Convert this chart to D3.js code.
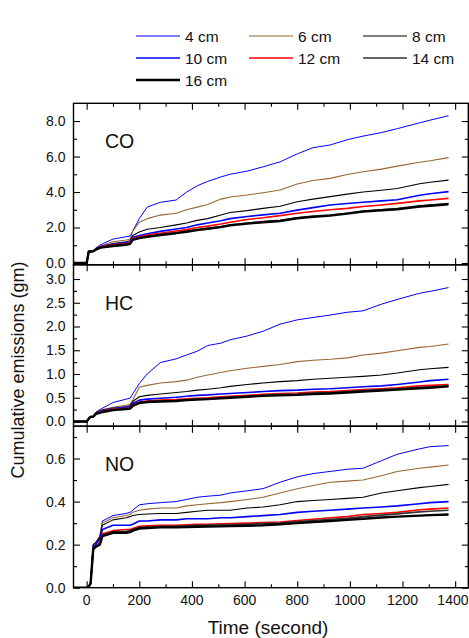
<!DOCTYPE html>
<html>
<head>
<meta charset="utf-8">
<script src="https://cdn.jsdelivr.net/npm/d3@7"></script>
<style>
    body { margin: 0; background: #fff; }
    text { font-family: Arial, "Liberation Sans", sans-serif; fill: #111; }
</style>
</head>
<body>
<div id="chart"></div>
<script>

// time axis shared by every series (seconds)
const times = [-50, 0, 8, 15, 25, 35, 50, 60, 100, 150, 165, 175, 200, 230, 280, 340, 380, 420, 460,
    510, 545, 610, 670, 735, 800, 860, 925, 990, 1050, 1120, 1180, 1265, 1305, 1375];

const sizes = ["4 cm", "6 cm", "8 cm", "10 cm", "12 cm", "14 cm", "16 cm"];

// CO, one row per size
const coValues = [
    [0,0,0.65,0.65,0.68,0.85,1.0,1.08,1.35,1.48,1.52,1.8,2.5,3.15,3.42,3.55,4.0,4.35,4.6,4.85,5.0,5.18,5.42,5.7,6.15,6.5,6.65,6.95,7.15,7.35,7.57,7.9,8.05,8.3],
    [0,0,0.65,0.65,0.68,0.83,0.95,1.0,1.2,1.3,1.35,1.8,2.3,2.5,2.7,2.8,3.0,3.15,3.3,3.6,3.72,3.83,3.96,4.11,4.45,4.65,4.77,4.99,5.14,5.29,5.46,5.68,5.76,5.94],
    [0,0,0.65,0.65,0.67,0.8,0.92,0.95,1.1,1.2,1.25,1.55,1.75,1.9,2.0,2.15,2.25,2.4,2.5,2.7,2.85,2.95,3.08,3.2,3.45,3.6,3.74,3.88,4.0,4.1,4.2,4.47,4.55,4.67],
    [0,0,0.65,0.65,0.67,0.8,0.9,0.95,1.05,1.15,1.2,1.45,1.55,1.65,1.78,1.92,2.0,2.15,2.25,2.38,2.5,2.62,2.71,2.8,2.98,3.12,3.27,3.35,3.42,3.5,3.56,3.82,3.9,4.02],
    [0,0,0.65,0.65,0.66,0.78,0.88,0.93,1.02,1.1,1.15,1.38,1.48,1.58,1.68,1.8,1.88,2.0,2.08,2.2,2.3,2.45,2.55,2.67,2.8,2.9,3.0,3.08,3.18,3.27,3.36,3.5,3.55,3.64],
    [0,0,0.65,0.65,0.66,0.76,0.86,0.9,0.98,1.05,1.1,1.33,1.42,1.5,1.6,1.7,1.78,1.88,1.95,2.05,2.15,2.25,2.33,2.4,2.55,2.65,2.7,2.8,2.92,3.0,3.07,3.22,3.27,3.35],
    [0,0,0.65,0.65,0.66,0.75,0.85,0.88,0.96,1.03,1.08,1.3,1.4,1.48,1.58,1.68,1.76,1.85,1.93,2.02,2.12,2.22,2.3,2.37,2.52,2.6,2.67,2.78,2.9,2.97,3.03,3.18,3.23,3.31]
];

// HC
const hcValues = [
    [0,0,0.06,0.1,0.1,0.2,0.25,0.28,0.4,0.47,0.49,0.58,0.8,1.0,1.24,1.32,1.4,1.48,1.6,1.65,1.72,1.8,1.9,2.05,2.14,2.19,2.24,2.3,2.33,2.47,2.57,2.7,2.74,2.82],
    [0,0,0.06,0.1,0.1,0.19,0.23,0.25,0.3,0.34,0.36,0.45,0.72,0.76,0.81,0.84,0.87,0.93,0.98,1.03,1.07,1.12,1.16,1.2,1.26,1.29,1.31,1.34,1.4,1.44,1.49,1.56,1.58,1.63],
    [0,0,0.06,0.1,0.1,0.18,0.22,0.24,0.28,0.31,0.33,0.42,0.52,0.55,0.58,0.61,0.63,0.66,0.68,0.71,0.74,0.78,0.81,0.84,0.86,0.89,0.91,0.93,0.95,0.98,1.02,1.09,1.11,1.14],
    [0,0,0.06,0.1,0.1,0.18,0.21,0.23,0.27,0.3,0.31,0.38,0.45,0.47,0.49,0.51,0.53,0.55,0.56,0.58,0.59,0.61,0.63,0.65,0.66,0.68,0.69,0.71,0.73,0.75,0.78,0.83,0.86,0.89],
    [0,0,0.06,0.1,0.1,0.17,0.2,0.22,0.26,0.28,0.29,0.35,0.41,0.43,0.45,0.46,0.48,0.49,0.5,0.52,0.53,0.55,0.57,0.59,0.6,0.62,0.63,0.65,0.67,0.69,0.71,0.75,0.76,0.78],
    [0,0,0.06,0.1,0.1,0.17,0.19,0.21,0.25,0.27,0.28,0.34,0.4,0.42,0.43,0.44,0.46,0.47,0.48,0.5,0.51,0.53,0.55,0.57,0.58,0.6,0.61,0.63,0.65,0.67,0.69,0.72,0.73,0.75],
    [0,0,0.06,0.1,0.1,0.16,0.18,0.2,0.24,0.26,0.27,0.33,0.39,0.41,0.42,0.43,0.45,0.46,0.47,0.49,0.5,0.52,0.54,0.55,0.56,0.58,0.59,0.61,0.63,0.65,0.67,0.7,0.71,0.74]
];

// NO
const noValues = [
    [0,0,0.005,0.02,0.2,0.21,0.24,0.31,0.335,0.345,0.35,0.36,0.385,0.39,0.395,0.4,0.41,0.42,0.425,0.43,0.44,0.45,0.46,0.49,0.515,0.53,0.54,0.55,0.555,0.59,0.62,0.645,0.655,0.66],
    [0,0,0.005,0.02,0.2,0.21,0.24,0.3,0.325,0.335,0.34,0.35,0.36,0.365,0.37,0.37,0.38,0.385,0.39,0.395,0.4,0.41,0.42,0.44,0.46,0.475,0.49,0.495,0.5,0.52,0.54,0.555,0.56,0.57],
    [0,0,0.005,0.02,0.2,0.21,0.235,0.29,0.315,0.325,0.33,0.335,0.34,0.342,0.345,0.345,0.35,0.355,0.36,0.36,0.36,0.37,0.375,0.385,0.4,0.405,0.41,0.415,0.42,0.44,0.45,0.465,0.47,0.48],
    [0,0,0.005,0.02,0.19,0.2,0.225,0.27,0.29,0.29,0.29,0.295,0.31,0.31,0.315,0.315,0.32,0.32,0.32,0.325,0.325,0.33,0.335,0.34,0.35,0.355,0.36,0.365,0.37,0.375,0.38,0.39,0.395,0.4],
    [0,0,0.005,0.02,0.18,0.19,0.21,0.25,0.265,0.27,0.27,0.275,0.285,0.287,0.29,0.29,0.292,0.295,0.295,0.297,0.298,0.3,0.303,0.305,0.312,0.318,0.325,0.33,0.34,0.345,0.35,0.362,0.365,0.37],
    [0,0,0.005,0.02,0.18,0.19,0.205,0.245,0.26,0.262,0.265,0.27,0.28,0.282,0.285,0.285,0.287,0.29,0.29,0.292,0.293,0.295,0.298,0.3,0.307,0.312,0.318,0.322,0.33,0.337,0.343,0.352,0.355,0.36],
    [0,0,0.005,0.02,0.18,0.19,0.2,0.24,0.255,0.255,0.258,0.265,0.275,0.277,0.28,0.28,0.282,0.283,0.284,0.285,0.286,0.288,0.29,0.295,0.3,0.305,0.31,0.315,0.32,0.326,0.33,0.335,0.337,0.34]
];

// line styles per size
const colors = ["#0000ff", "#996633", "#000000", "#0000ff", "#ff0000", "#333333", "#000000"];
const widths = [1, 1.1, 1.1, 1.6, 1.6, 1.6, 2.4];

const width = 469, height = 638;
const margin = {top: 103.3, right: 0.7, bottom: 50.3, left: 73.5};
const plotW = width - margin.left - margin.right;
const panelH = (height - margin.top - margin.bottom) / 3;

const svg = d3.select("#chart").append("svg")
    .attr("width", width)
    .attr("height", height);

const x = d3.scaleLinear().domain([-50, 1450]).range([margin.left, margin.left + plotW]);

// panel definitions
const panels = [
    {name: "CO", values: coValues, domain: [-0.1, 9], major: [0, 2, 4, 6, 8], minor: [1, 3, 5, 7]},
    {name: "HC", values: hcValues, domain: [-0.1, 3.3], major: d3.range(0, 3.01, 0.5), minor: d3.range(0.25, 3.0, 0.5)},
    {name: "NO", values: noValues, domain: [0, 0.75], major: [0, 0.2, 0.4, 0.6], minor: [0.1, 0.3, 0.5, 0.7]}
];

const xMajor = d3.range(0, 1401, 200);
const xMinor = d3.range(100, 1400, 200);
const majorLen = 6.5, minorLen = 3.5;

panels.forEach((p, i) => {
    let top = margin.top + i * panelH;
    let bottom = top + panelH;
    let y = d3.scaleLinear().domain(p.domain).range([bottom, top]);

    let g = svg.append("g").attr("class", "panel");

    // clip for lines
    g.append("clipPath").attr("id", "clip" + i)
        .append("rect").attr("x", margin.left).attr("y", top).attr("width", plotW).attr("height", panelH);

    let line = d3.line()
        .x((d, j) => x(times[j]))
        .y(d => y(d));

    g.append("g").attr("clip-path", `url(#clip${i})`)
        .selectAll("path").data(p.values).enter().append("path")
        .attr("d", d => line(d))
        .attr("fill", "none")
        .attr("stroke", (d, j) => colors[j])
        .attr("stroke-width", (d, j) => widths[j])
        .attr("stroke-linejoin", "round");

    // left axis, ticks inward
    let left = g.append("g")
        .attr("transform", `translate(${margin.left},0)`)
        .call(d3.axisLeft(y).tickValues(p.major).tickSize(-majorLen).tickPadding(8).tickFormat(d3.format(".1f")));
    left.select(".domain").remove();
    left.selectAll("text").style("font-size", "14px").style("font-family", "Arial, 'Liberation Sans', sans-serif").attr("fill", "#111");
    g.append("g").attr("transform", `translate(${margin.left},0)`)
        .call(d3.axisLeft(y).tickValues(p.minor).tickSize(-minorLen).tickFormat(""))
        .select(".domain").remove();

    // right axis, ticks inward, no labels
    [p.major, p.minor].forEach((vals, k) => {
        g.append("g").attr("transform", `translate(${margin.left + plotW},0)`)
            .call(d3.axisRight(y).tickValues(vals).tickSize(-(k ? minorLen : majorLen)).tickFormat(""))
            .select(".domain").remove();
    });

    // top and bottom x ticks, inward
    [[xMajor, majorLen], [xMinor, minorLen]].forEach(([vals, len]) => {
        g.append("g").attr("transform", `translate(0,${top})`)
            .call(d3.axisTop(x).tickValues(vals).tickSize(-len).tickFormat(""))
            .select(".domain").remove();
        g.append("g").attr("transform", `translate(0,${bottom})`)
            .call(d3.axisBottom(x).tickValues(vals).tickSize(-len).tickFormat(""))
            .select(".domain").remove();
    });

    // frame
    g.append("rect")
        .attr("x", margin.left).attr("y", top)
        .attr("width", plotW).attr("height", panelH)
        .attr("fill", "none").attr("stroke", "#000").attr("stroke-width", 1.4);

    // panel label
    g.append("text")
        .attr("x", 105).attr("y", top + 45)
        .style("font-size", "19.5px")
        .text(p.name);

    // x tick labels only on the last panel (last one kept inside the page)
    if (i === panels.length - 1) {
        g.selectAll(".xlab").data(xMajor).enter().append("text")
            .attr("class", "xlab")
            .attr("x", d => d === 1400 ? width - 0.5 : x(d))
            .attr("y", bottom + 17.5)
            .attr("text-anchor", d => d === 1400 ? "end" : "middle")
            .style("font-size", "14px")
            .text(d => d);
    }
    svg.selectAll(".tick line").attr("stroke", "#000").attr("stroke-width", 1.1);
});

// axis titles
svg.append("text")
    .attr("x", 268).attr("y", 634)
    .attr("text-anchor", "middle")
    .style("font-size", "19px")
    .text("Time (second)");

svg.append("text")
    .attr("transform", "translate(24,370) rotate(-90)")
    .attr("text-anchor", "middle")
    .style("font-size", "18px")
    .text("Cumulative emissions (gm)");

// legend
const legendX = [136, 249, 363];
const legendY = [36, 58, 80];
const legend = svg.append("g").attr("class", "legend");
sizes.forEach((s, i) => {
    let lx = legendX[i % 3], ly = legendY[Math.floor(i / 3)];
    legend.append("line")
        .attr("x1", lx).attr("x2", lx + 44)
        .attr("y1", ly).attr("y2", ly)
        .attr("stroke", colors[i])
        .attr("stroke-width", widths[i]);
    legend.append("text")
        .attr("x", lx + 49).attr("y", ly + 5.5)
        .style("font-size", "15.5px")
        .text(s);
});

</script>
</body>
</html>
